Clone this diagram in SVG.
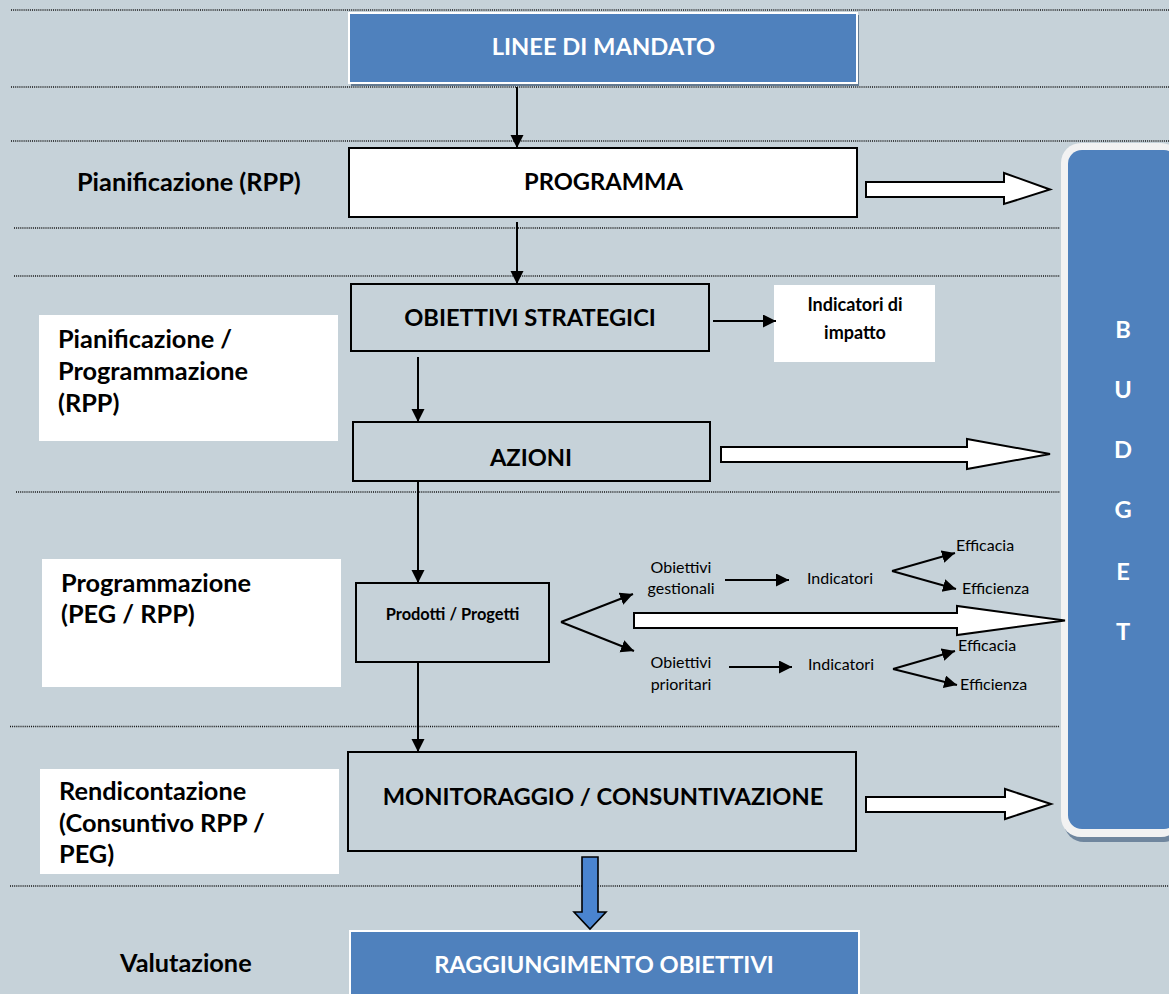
<svg xmlns="http://www.w3.org/2000/svg" width="1169" height="994" viewBox="0 0 1169 994">
<style>
.b{font-family:Lato,"Liberation Sans",sans-serif;font-weight:bold;fill:#000}
.w{font-family:Lato,"Liberation Sans",sans-serif;font-weight:bold;fill:#fff}
.r{font-family:Lato,"Liberation Sans",sans-serif;font-weight:normal;fill:#000;font-size:16px}
.cap{font-size:23.7px}
.lab{font-size:25.3px}
.dot{stroke:#111;stroke-width:1.3;stroke-dasharray:1 1.1;fill:none}
.box{fill:none;stroke:#000;stroke-width:2}
.ln{stroke:#000;stroke-width:2;fill:none;marker-end:url(#ah)}
.blk{fill:#fff;stroke:#000;stroke-width:2;stroke-linejoin:miter}
</style>
<defs>
<marker id="ah" markerUnits="userSpaceOnUse" markerWidth="14" markerHeight="14" refX="13" refY="6.5" orient="auto">
<path d="M0,0 L13,6.5 L0,13 z" fill="#000"/>
</marker>
</defs>
<rect width="1169" height="994" fill="#C6D2D9"/>
<g id="guides">
<line class="dot" x1="11" y1="10" x2="1169" y2="10"/>
<line class="dot" x1="11" y1="87" x2="1169" y2="87"/>
<line class="dot" x1="11" y1="141" x2="1169" y2="141"/>
<line class="dot" x1="14" y1="228" x2="1060" y2="228"/>
<line class="dot" x1="14" y1="276" x2="1060" y2="276"/>
<line class="dot" x1="16" y1="492" x2="1060" y2="492"/>
<line class="dot" x1="10" y1="726.5" x2="1060" y2="726.5"/>
<line class="dot" x1="10" y1="886" x2="1169" y2="886"/>
</g>
<g id="n-linee">
<rect x="351" y="15" width="508" height="71" fill="#3a5674" opacity="0.7"/>
<rect x="349" y="13" width="508" height="70" fill="#4F81BD" stroke="#fff" stroke-width="2"/>
<text class="w cap" x="603.5" y="55" text-anchor="middle">LINEE DI MANDATO</text>
</g>
<g id="n-programma">
<rect x="349" y="148" width="508" height="69" fill="#fff" stroke="#000" stroke-width="2"/>
<text class="b cap" x="603.5" y="189.5" text-anchor="middle">PROGRAMMA</text>
</g>
<g id="l-pianificazione">
<text class="b lab" x="77" y="190.5">Pianificazione (RPP)</text>
</g>
<g id="n-obiettivi">
<rect class="box" x="351" y="284" width="358" height="67"/>
<text class="b cap" x="530" y="325.5" text-anchor="middle">OBIETTIVI STRATEGICI</text>
</g>
<g id="n-impatto">
<rect x="774" y="285" width="161" height="77" fill="#fff"/>
<text class="b" x="855" y="311" font-size="18" text-anchor="middle">Indicatori di</text>
<text class="b" x="855" y="339" font-size="18" text-anchor="middle">impatto</text>
</g>
<g id="l-pianprog">
<rect x="39" y="315" width="299" height="126" fill="#fff"/>
<text class="b lab" x="58" y="348">Pianificazione /</text>
<text class="b lab" x="58" y="380">Programmazione</text>
<text class="b lab" x="58" y="412">(RPP)</text>
</g>
<g id="n-azioni">
<rect class="box" x="353" y="422" width="357" height="59"/>
<text class="b cap" x="531" y="465.5" text-anchor="middle">AZIONI</text>
</g>
<g id="l-programmazione">
<rect x="42" y="559" width="299" height="128" fill="#fff"/>
<text class="b lab" x="61" y="592">Programmazione</text>
<text class="b lab" x="61" y="623">(PEG / RPP)</text>
</g>
<g id="n-prodotti">
<rect class="box" x="356" y="583" width="193" height="79" stroke-width="1.6"/>
<text class="b" x="452.5" y="620" font-size="16.4" text-anchor="middle">Prodotti / Progetti</text>
</g>
<g id="n-gestionali">
<text class="r" x="681" y="573" text-anchor="middle">Obiettivi</text>
<text class="r" x="681" y="594" text-anchor="middle">gestionali</text>
</g>
<g id="n-prioritari">
<text class="r" x="681" y="668" text-anchor="middle">Obiettivi</text>
<text class="r" x="681" y="690" text-anchor="middle">prioritari</text>
</g>
<g id="n-indicatori1"><text class="r" x="807" y="584">Indicatori</text></g>
<g id="n-indicatori2"><text class="r" x="808" y="670">Indicatori</text></g>
<g id="n-efficacia1"><text class="r" x="956" y="551">Efficacia</text></g>
<g id="n-efficienza1"><text class="r" x="962" y="594">Efficienza</text></g>
<g id="n-efficacia2"><text class="r" x="958" y="651">Efficacia</text></g>
<g id="n-efficienza2"><text class="r" x="960" y="690">Efficienza</text></g>
<g id="n-monitoraggio">
<rect class="box" x="348" y="752" width="508" height="99" stroke-width="1.6"/>
<text class="b cap" x="603" y="805" text-anchor="middle">MONITORAGGIO / CONSUNTIVAZIONE</text>
</g>
<g id="l-rendicontazione">
<rect x="40" y="769" width="299" height="105" fill="#fff"/>
<text class="b lab" x="59" y="800">Rendicontazione</text>
<text class="b lab" x="59" y="832">(Consuntivo RPP /</text>
<text class="b lab" x="59" y="863">PEG)</text>
</g>
<g id="l-valutazione">
<text class="b lab" x="120" y="972">Valutazione</text>
</g>
<g id="n-raggiungimento">
<rect x="350" y="931" width="509" height="70" fill="#4F81BD" stroke="#fff" stroke-width="2"/>
<text class="w cap" x="604" y="973" text-anchor="middle">RAGGIUNGIMENTO OBIETTIVI</text>
</g>
<g id="n-budget">
<rect x="1064" y="148" width="120" height="694" rx="20" fill="#6f869e"/>
<rect x="1061" y="143" width="120" height="694" rx="20" fill="#F2F2F2"/>
<rect x="1068" y="150" width="110" height="679" rx="14" fill="#4F81BD"/>
<text class="w cap" x="1123" y="338" text-anchor="middle">B</text>
<text class="w cap" x="1123" y="398" text-anchor="middle">U</text>
<text class="w cap" x="1123" y="458" text-anchor="middle">D</text>
<text class="w cap" x="1123" y="518" text-anchor="middle">G</text>
<text class="w cap" x="1123" y="580" text-anchor="middle">E</text>
<text class="w cap" x="1123" y="640" text-anchor="middle">T</text>
</g>
<g id="connectors">
<line class="ln" x1="517" y1="87" x2="517" y2="148"/>
<line class="ln" x1="517" y1="222" x2="517" y2="284"/>
<line class="ln" x1="418" y1="357" x2="418" y2="422"/>
<line class="ln" x1="418" y1="481" x2="418" y2="583"/>
<line class="ln" x1="418" y1="662" x2="418" y2="752"/>
<line class="ln" x1="713" y1="321" x2="776" y2="321"/>
<line class="ln" x1="561" y1="622" x2="633" y2="594"/>
<line class="ln" x1="561" y1="622" x2="634" y2="651"/>
<line class="ln" x1="725" y1="580" x2="789" y2="580"/>
<line class="ln" x1="729" y1="667" x2="792" y2="667"/>
<line class="ln" x1="892" y1="571" x2="955" y2="553"/>
<line class="ln" x1="892" y1="571" x2="956" y2="589"/>
<line class="ln" x1="893" y1="669" x2="955" y2="651"/>
<line class="ln" x1="893" y1="669" x2="957" y2="685"/>
<polygon class="blk" points="866,182 1004,182 1004,173 1050,189.5 1004,204 1004,197 866,197"/>
<polygon class="blk" points="721,447 967,447 967,439 1050,454 967,469 967,462 721,462"/>
<polygon class="blk" points="634,613 957,613 957,606 1065,620.5 957,635 957,628 634,628"/>
<polygon class="blk" points="866,797 1005,797 1005,789 1051,804 1005,819 1005,812 866,812"/>
<polygon points="582,857 598,857 598,912 606,912 590,929 574,912 582,912" fill="#4A84CF" stroke="#000" stroke-width="1.6"/>
</g>
</svg>
